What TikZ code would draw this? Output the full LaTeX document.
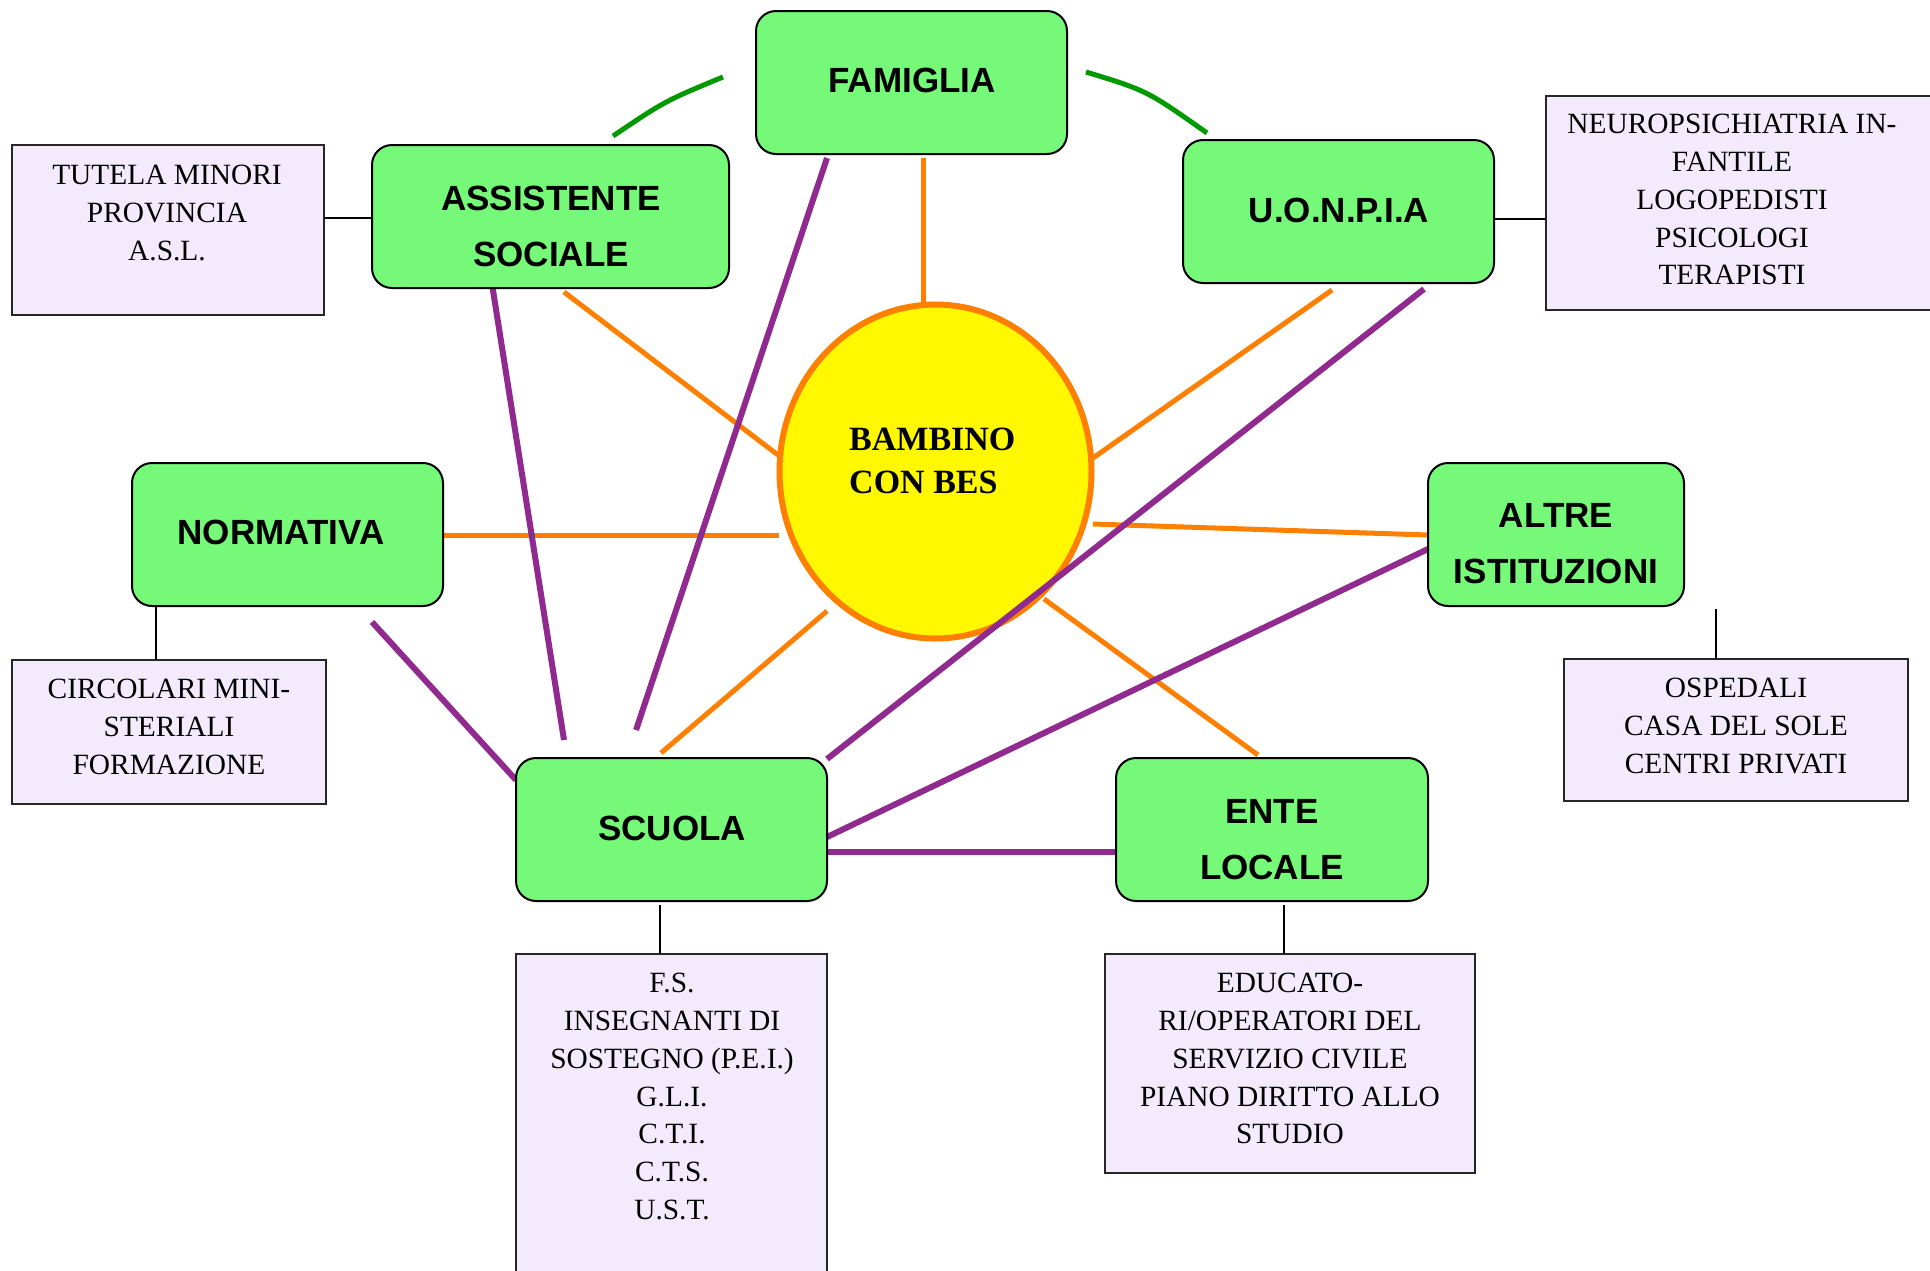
\documentclass[tikz,border=0pt]{standalone}
\usepackage{fontspec}
\setmainfont{Liberation Serif}
\setsansfont{Liberation Sans}
\usetikzlibrary{shapes.geometric}
\definecolor{boxgreen}{HTML}{76F979}
\definecolor{lav}{HTML}{F3EBFC}
\definecolor{lineorange}{HTML}{FF8000}
\definecolor{linepurple}{HTML}{912A8E}
\definecolor{arcgreen}{HTML}{009A00}
\definecolor{sunyellow}{HTML}{FFF800}
\tikzset{
  gbox/.style={draw=black, line width=2pt, fill=boxgreen, rounded corners=20pt, inner sep=0pt},
  gtext/.style={font=\fontsize{35}{56}\selectfont\sffamily\bfseries, align=center, inner sep=0pt},
  lbox/.style={draw=black!85, line width=2pt, fill=lav, inner sep=0pt},
  ltext/.style={font=\fontsize{29.4}{37.7}\selectfont, align=center, inner sep=0pt, anchor=north},
  oline/.style={draw=lineorange, line width=5pt},
  pline/.style={draw=linepurple, line width=6pt},
  aline/.style={draw=arcgreen, line width=5pt},
  tline/.style={draw=black, line width=1.6pt}
}
\begin{document}
\begin{tikzpicture}[x=1pt,y=-1pt]
\useasboundingbox (0,0) rectangle (1930,1270);
\fill[white] (0,0) rectangle (1930,1270);

% lavender boxes
\node[lbox, minimum width=312pt, minimum height=170pt] (tut) at (168,230) {};
\node[lbox, minimum width=404pt, minimum height=214pt] (neu) at (1748,203) {};
\node[lbox, minimum width=314pt, minimum height=144pt] (cir) at (169,732) {};
\node[lbox, minimum width=344pt, minimum height=142pt] (osp) at (1736,730) {};
\node[lbox, minimum width=311pt, minimum height=336pt] (fs) at (671.5,1122) {};
\node[lbox, minimum width=370pt, minimum height=219pt] (edu) at (1290,1063.5) {};

\node[ltext] (tut-t) at (167,165.3) {TUTELA MINORI\\PROVINCIA\\A.S.L.};
\node[ltext] (neu-t) at (1732,114.3) {NEUROPSICHIATRIA IN-\\FANTILE\\LOGOPEDISTI\\PSICOLOGI\\TERAPISTI};
\node[ltext] (cir-t) at (169,679.3) {CIRCOLARI MINI-\\STERIALI\\FORMAZIONE};
\node[ltext] (osp-t) at (1736,678.3) {OSPEDALI\\CASA DEL SOLE\\CENTRI PRIVATI};
\node[ltext] (fs-t) at (672,973.3) {F.S.\\INSEGNANTI DI\\SOSTEGNO (P.E.I.)\\G.L.I.\\C.T.I.\\C.T.S.\\U.S.T.};
\node[ltext] (edu-t) at (1290,973.3) {EDUCATO-\\RI/OPERATORI DEL\\SERVIZIO CIVILE\\PIANO DIRITTO ALLO\\STUDIO};

% connector end points
\coordinate (tA) at (324,218);   \coordinate (tB) at (372,218);
\coordinate (uA) at (1494,219);  \coordinate (uB) at (1546,219);
\coordinate (nA) at (156,606);   \coordinate (nB) at (156,660);
\coordinate (aA) at (1716,609);  \coordinate (aB) at (1716,659);
\coordinate (sA) at (660,905);   \coordinate (sB) at (660,954);
\coordinate (eA) at (1284,905);  \coordinate (eB) at (1284,954);

\coordinate (of1) at (923,158);  \coordinate (of2) at (923,303);
\coordinate (oa1) at (564,292);  \coordinate (oa2) at (778,455);
\coordinate (ou1) at (1332,290); \coordinate (ou2) at (1093,458);
\coordinate (on1) at (443,535);  \coordinate (on2) at (779,535);
\coordinate (ol1) at (1428,535); \coordinate (ol2) at (1093,524);
\coordinate (os1) at (661,753);  \coordinate (os2) at (827,611);
\coordinate (oe1) at (1258,755); \coordinate (oe2) at (1044,599);

\coordinate (p1a) at (564,740);  \coordinate (p1b) at (492,284);
\coordinate (p2a) at (636,730);  \coordinate (p2b) at (827,158);
\coordinate (p3a) at (516,780);  \coordinate (p3b) at (372,622);
\coordinate (p4a) at (827,759);  \coordinate (p4b) at (1424,289);
\coordinate (p5a) at (827,837);  \coordinate (p5b) at (1428,549);
\coordinate (p6a) at (827,852);  \coordinate (p6b) at (1116,852);

\coordinate (g1a) at (613,136);  \coordinate (g1b) at (723,77);
\coordinate (g2a) at (1086,72);  \coordinate (g2b) at (1207,133);

% thin connectors
\draw[tline] (tA) -- (tB);
\draw[tline] (uA) -- (uB);
\draw[tline] (nA) -- (nB);
\draw[tline] (aA) -- (aB);
\draw[tline] (sA) -- (sB);
\draw[tline] (eA) -- (eB);

% orange connectors
\draw[oline] (of1) -- (of2);
\draw[oline] (oa1) -- (oa2);
\draw[oline] (ou1) -- (ou2);
\draw[oline] (on1) -- (on2);
\draw[oline] (ol1) -- (ol2);
\draw[oline] (os1) -- (os2);
\draw[oline] (oe1) -- (oe2);

% centre ellipse
\node[ellipse, draw=lineorange, line width=6pt, fill=sunyellow, minimum width=312pt, minimum height=334pt, inner sep=0pt] (bes) at (935.5,471.5) {};
\node[font=\fontsize{34}{43}\selectfont\bfseries, align=left, anchor=north west, inner sep=0pt] (bes-t) at (849,427.7) {BAMBINO\\CON BES};

% purple connectors
\draw[pline] (p1a) -- (p1b);
\draw[pline] (p2a) -- (p2b);
\draw[pline] (p3a) -- (p3b);
\draw[pline] (p4a) -- (p4b);
\draw[pline] (p5a) -- (p5b);
\draw[pline] (p6a) -- (p6b);

% green arcs
\draw[aline] (g1a) .. controls (665,101) .. (g1b);
\draw[aline] (g2a) .. controls (1147,90.6) .. (g2b);

% green boxes
\node[gbox, minimum width=311pt, minimum height=143pt] (fam) at (911.5,82.5) {};
\node[gbox, minimum width=357pt, minimum height=143pt] (ass) at (550.5,216.5) {};
\node[gbox, minimum width=311pt, minimum height=143pt] (uon) at (1338.5,211.5) {};
\node[gbox, minimum width=311pt, minimum height=143pt] (nor) at (287.5,534.5) {};
\node[gbox, minimum width=256pt, minimum height=143pt] (alt) at (1556,534.5) {};
\node[gbox, minimum width=311pt, minimum height=143pt] (scu) at (671.5,829.5) {};
\node[gbox, minimum width=312pt, minimum height=143pt] (ent) at (1272,829.5) {};

\node[gtext] (fam-t) at (912,80) {FAMIGLIA};
\node[gtext] (ass-t) at (551,226.5) {ASSISTENTE\\SOCIALE};
\node[gtext] (uon-t) at (1339,210) {U.O.N.P.I.A};
\node[gtext] (nor-t) at (281,532) {NORMATIVA};
\node[gtext] (alt-t) at (1556,543.5) {ALTRE\\ISTITUZIONI};
\node[gtext] (scu-t) at (672,828) {SCUOLA};
\node[gtext] (ent-t) at (1272,839.5) {ENTE\\LOCALE};
\end{tikzpicture}
\end{document}
